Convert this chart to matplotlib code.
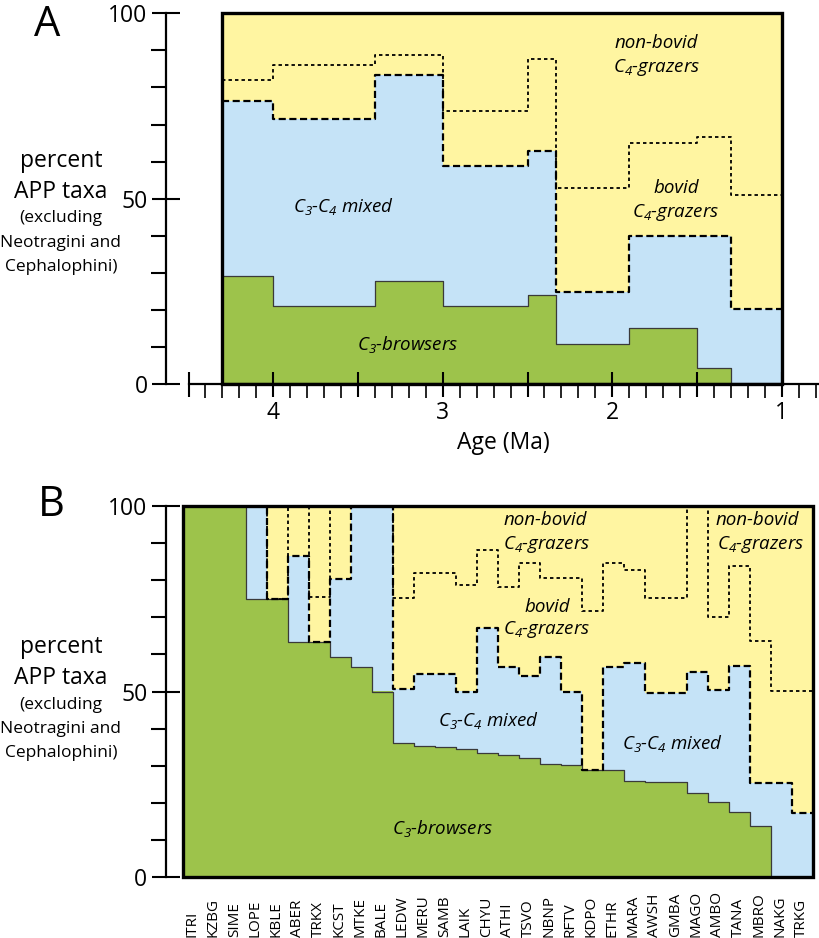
import numpy as np
import matplotlib.pyplot as plt
from matplotlib.patches import Rectangle
from matplotlib.ticker import MultipleLocator, FuncFormatter
import matplotlib.transforms as mtransforms

plt.rcParams['font.family'] = ['Open Sans', 'DejaVu Sans']
plt.rcParams['mathtext.fontset'] = 'custom'
plt.rcParams['mathtext.it'] = 'Open Sans:italic'
plt.rcParams['mathtext.rm'] = 'Open Sans:italic'

W, H = 819, 938

GREEN = '#9dc34b'
BLUE = '#c5e3f7'
YELLOW = '#fff5a1'

# ---- panel A: by age bin (Ma) ----
age_edges = [4.3, 4.0, 3.4, 3.0, 2.5, 2.33, 1.9, 1.5, 1.3, 1.0]
a_browsers = [29.2, 21.1, 27.8, 21.1, 24.0, 10.8, 15.1, 4.3, 0.0]
a_mixed_top = [76.4, 71.5, 83.3, 58.9, 63.0, 25.0, 40.0, 40.0, 20.3]
a_bovid_top = [82.0, 86.1, 88.8, 73.7, 87.7, 52.8, 65.0, 66.6, 51.0]

# ---- panel B: by site ----
sites = ['ITRI', 'KZBG', 'SIME', 'LOPE', 'KBLE', 'ABER', 'TRKX', 'KCST', 'MTKE',
         'BALE', 'LEDW', 'MERU', 'SAMB', 'LAIK', 'CHYU', 'ATHI', 'TSVO', 'NBNP',
         'RFTV', 'KDPO', 'ETHR', 'MARA', 'AWSH', 'GMBA', 'MAGO', 'AMBO', 'TANA',
         'MBRO', 'NAKG', 'TRKG']
b_browsers = [100, 100, 100, 75.0, 75.0, 63.4, 63.4, 59.2, 56.5, 50.0,
              36.0, 35.2, 35.0, 34.5, 33.5, 33.0, 32.0, 30.5, 30.2, 28.8,
              28.8, 25.8, 25.6, 25.5, 22.6, 20.3, 17.5, 13.7, 0.0, 0.0]
b_mixed_top = [100, 100, 100, 100, 75.0, 86.6, 63.4, 80.2, 100, 100,
               50.7, 54.7, 54.7, 50.0, 67.0, 56.7, 54.2, 59.2, 50.0, 28.8,
               56.5, 57.8, 49.5, 49.5, 55.3, 50.4, 57.0, 25.3, 25.3, 17.2]
b_bovid_top = [100, 100, 100, 100, 75.0, 100, 75.6, 100, 100, 100,
               75.1, 81.9, 81.9, 78.7, 88.1, 78.3, 84.7, 80.7, 80.7, 71.8,
               84.7, 82.7, 75.1, 75.1, 100, 70.2, 83.8, 63.7, 50.1, 50.1]


def ext(v):
    return np.append(v, v[-1])


def draw_layers(ax, edges, browsers, mixed, bovid):
    g, m, b = ext(browsers), ext(mixed), ext(bovid)
    ax.fill_between(edges, 0, g, step='post', color=GREEN, lw=0)
    ax.fill_between(edges, g, m, step='post', color=BLUE, lw=0)
    ax.fill_between(edges, m, 100, step='post', color=YELLOW, lw=0)
    ax.step(edges, g, where='post', color='#3a3a3a', lw=0.9)
    ax.step(edges, b, where='post', color='k', lw=1.3, ls=(0, (1.9, 1.7)))
    ax.step(edges, m, where='post', color='k', lw=1.6, ls=(0, (3.2, 1.6)))


def style_yaxis(ax, offset):
    for s in ['top', 'right']:
        ax.spines[s].set_visible(False)
    ax.spines['left'].set_position(('outward', offset))
    ax.spines['left'].set_linewidth(1.6)
    ax.set_ylim(0, 100)
    ax.set_yticks([0, 50, 100])
    ax.yaxis.set_minor_locator(MultipleLocator(10))
    ax.tick_params(axis='y', which='major', direction='inout', length=20,
                   width=1.5, pad=3.5, labelsize=16.5)
    ax.tick_params(axis='y', which='minor', direction='out', length=10.5,
                   width=1.5)


def ylabel_block(ys):
    lines = ['percent', 'APP taxa', '(excluding', 'Neotragini and', 'Cephalophini)']
    sizes = [16.5, 16.5, 12.5, 12.5, 12.5]
    for txt, y, fs in zip(lines, ys, sizes):
        fig.text(61 / W, 1 - y / H, txt, ha='center', va='center', fontsize=fs)


def label(ax, x, y, txt):
    ax.text(x, y, txt, ha='center', va='center', fontsize=13.5,
            fontstyle='italic', zorder=6)


fig = plt.figure(figsize=(W / 100, H / 100), dpi=100)

# ---------- A ----------
axA = fig.add_axes([188.55 / W, 1 - 384.3 / H, (819 - 188.55) / W, 371 / H])
draw_layers(axA, age_edges, a_browsers, a_mixed_top, a_bovid_top)
axA.add_patch(Rectangle((1.0, 0), 3.3, 100, fill=False, lw=2.4, ec='k',
                        zorder=5, clip_on=False))
axA.set_xlim(4.5, 0.7805)
style_yaxis(axA, 16)
axA.spines['bottom'].set_linewidth(1.6)
axA.xaxis.set_major_locator(MultipleLocator(0.5))
axA.xaxis.set_minor_locator(MultipleLocator(0.1))
axA.xaxis.set_major_formatter(
    FuncFormatter(lambda v, p: f'{v:.0f}' if abs(v - round(v)) < 1e-6 else ''))
axA.tick_params(axis='x', which='major', direction='inout', length=18,
                width=1.5, pad=3, labelsize=16.5)
axA.tick_params(axis='x', which='minor', direction='out', length=10, width=1.2)
axA.set_xlabel('Age (Ma)', fontsize=16.5, labelpad=4)

label(axA, 1.74, 92.0, 'non-bovid')
label(axA, 1.74, 85.5, '$C_4$-grazers')
label(axA, 1.625, 52.9, 'bovid')
label(axA, 1.625, 46.2, '$C_4$-grazers')
label(axA, 3.589, 47.8, '$C_3$-$C_4$ mixed')
label(axA, 3.205, 10.6, '$C_3$-browsers')

fig.text(47 / W, 1 - 25 / H, 'A', ha='center', va='center', fontsize=30)
ylabel_block([161, 192, 218, 243, 267])

# ---------- B ----------
axB = fig.add_axes([183 / W, 1 - 877 / H, 630 / W, 371 / H])
edges = np.arange(len(sites) + 1)
draw_layers(axB, edges, b_browsers, b_mixed_top, b_bovid_top)
axB.add_patch(Rectangle((0, 0), len(sites), 100, fill=False, lw=2.4, ec='k',
                        zorder=5, clip_on=False))
axB.set_xlim(0, len(sites))
style_yaxis(axB, 12.2)
axB.spines['bottom'].set_visible(False)
axB.set_xticks([])
trans = mtransforms.blended_transform_factory(axB.transData, fig.transFigure)
for i, s in enumerate(sites):
    axB.text(i + 0.45, 1 - 937 / H, s, transform=trans, rotation=90,
             ha='center', va='bottom', fontsize=11)

label(axB, 17.24, 96.2, 'non-bovid')
label(axB, 17.33, 89.5, '$C_4$-grazers')
label(axB, 27.33, 96.2, 'non-bovid')
label(axB, 27.48, 89.5, '$C_4$-grazers')
label(axB, 17.33, 72.8, 'bovid')
label(axB, 17.33, 66.6, '$C_4$-grazers')
label(axB, 14.52, 42.3, '$C_3$-$C_4$ mixed')
label(axB, 23.29, 36.1, '$C_3$-$C_4$ mixed')
label(axB, 12.38, 13.2, '$C_3$-browsers')

fig.text(51 / W, 1 - 505 / H, 'B', ha='center', va='center', fontsize=30)
ylabel_block([647, 678, 705, 729, 753])

fig.savefig('out.png', dpi=100)
